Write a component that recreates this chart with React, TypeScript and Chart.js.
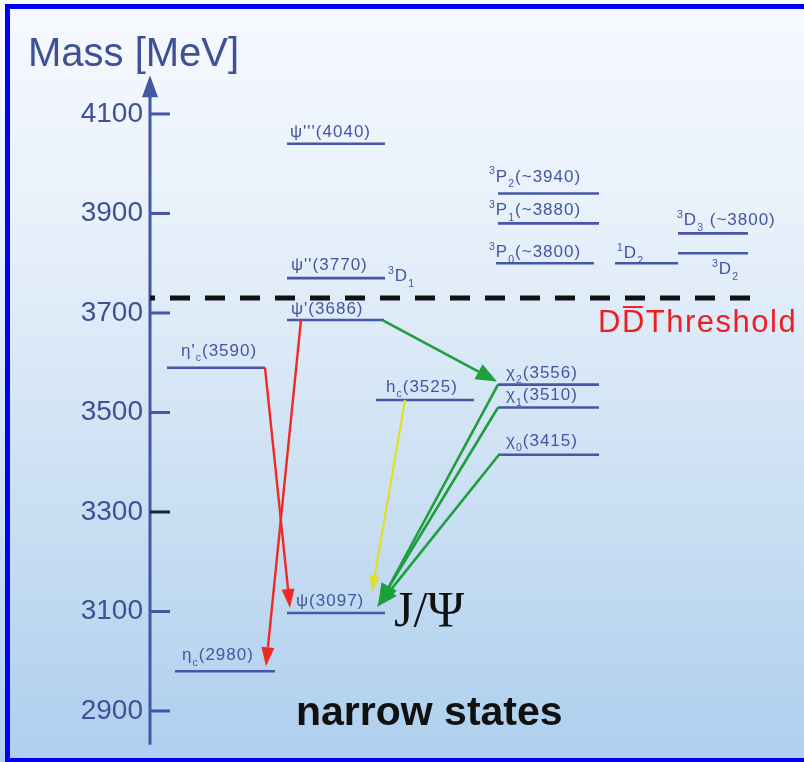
import { useEffect, useRef } from 'react';
import { Chart, registerables } from 'chart.js';

Chart.register(...registerables);

// ---- data ----------------------------------------------------------------
// Mass axis ticks (MeV)
const tickValues = [2900, 3100, 3300, 3500, 3700, 3900, 4100];

// Charmonium states: label text (with _{sub} / ^{sup}) and mass in MeV
const stateLabels = [
  "ψ'''(4040)",
  "ψ''(3770)",
  "ψ'(3686)",
  "η'_{c}(3590)",
  "h_{c}(3525)",
  "χ_{2}(3556)",
  "χ_{1}(3510)",
  "χ_{0}(3415)",
  "ψ(3097)",
  "η_{c}(2980)",
  "^{3}P_{2}(~3940)",
  "^{3}P_{1}(~3880)",
  "^{3}P_{0}(~3800)",
  "^{1}D_{2}",
  "^{3}D_{3} (~3800)",
  "^{3}D_{2}",
];
const stateMasses = [4040, 3770, 3686, 3590, 3525, 3556, 3510, 3415, 3097, 2980, 3940, 3880, 3800, 3800, 3860, 3820];

// Extra spectroscopic tag beside the psi(3770) level
const sideTagText = '^{3}D_{1}';
const sideTagState = 1;

// Radiative / hadronic transitions between states (indices into the arrays above)
const transitionFrom = [2, 3, 2, 5, 6, 7, 4];
const transitionTo = [9, 8, 5, 8, 8, 8, 8];
const transitionKind = ['red', 'red', 'green', 'green', 'green', 'green', 'yellow'];

// Open-charm threshold
const thresholdMass = 3730;
const thresholdWords = ['D', 'D', 'Threshold'];

const axisTitle = 'Mass [MeV]';
const jpsiText = 'J/Ψ';
const footerText = 'narrow states';

// ---- layout ----------------------------------------------------------------
const Y_MIN = 2797.5;
const Y_MAX = 4329;
const AXIS_X = 150;
const AXIS_TOP = 4178;
const AXIS_BOTTOM = 2832;

// horizontal extent of each level and where its label sits [x, dy from line]
const stateSpan: [number, number][] = [
  [287, 385], [287, 385], [287, 384], [167, 265], [376, 474],
  [498, 599], [498, 599], [498, 599], [287, 385], [175, 275],
  [498, 599], [498, 599], [496, 594], [615, 678], [678, 748], [678, 748],
];
const stateLabelAt: [number, number][] = [
  [290, -7], [291, -8], [291, -6], [181, -12], [386, -8],
  [506, -7], [506, -7], [506, -9], [296, -7], [182, -11],
  [489, -12], [489, -8], [489, -6], [617, -5], [677, -8], [712, 21],
];
const sideTagAt: [number, number] = [388, 3];

// [x start, x end, gap above target line in px]
const transitionX: [number, number, number][] = [
  [301, 266, 5],
  [265, 290, 5],
  [382, 497, 3],
  [498, 379, 8],
  [498, 378, 8],
  [499, 377, 6],
  [405, 372, 21],
];

const COLORS = {
  level: '#4656a8',
  text: '#4455a3',
  axis: '#4357a3',
  red: '#ef2a22',
  green: '#1e9e3c',
  yellow: '#e2dd26',
  dash: '#111111',
  border: '#0000f0',
};

const arrowStyle: Record<string, { w: number; len: number; head: number }> = {
  red: { w: 2.4, len: 19, head: 13 },
  green: { w: 2.6, len: 21, head: 17 },
  yellow: { w: 2.2, len: 16, head: 10 },
};

// ---- drawing helpers -----------------------------------------------------
function drawRich(ctx: CanvasRenderingContext2D, text: string, x: number, y: number, size: number, spacing = 1) {
  const re = /([_^])\{([^}]*)\}|([^_^]+)/g;
  let m: RegExpExecArray | null;
  let cx = x;
  ctx.letterSpacing = `${spacing}px`;
  while ((m = re.exec(text))) {
    let s: string;
    let fs = size;
    let dy = 0;
    if (m[1]) {
      s = m[2];
      fs = size * 0.62;
      dy = m[1] === '_' ? size * 0.32 : -size * 0.42;
    } else {
      s = m[3];
    }
    ctx.font = `${fs}px "Liberation Sans"`;
    ctx.fillText(s, cx, y + dy);
    cx += ctx.measureText(s).width;
  }
  ctx.letterSpacing = '0px';
}

function drawArrow(
  ctx: CanvasRenderingContext2D,
  x0: number, y0: number, x1: number, y1: number,
  color: string, w: number, len: number, head: number,
) {
  const a = Math.atan2(y1 - y0, x1 - x0);
  const bx = x1 - len * Math.cos(a);
  const by = y1 - len * Math.sin(a);
  ctx.strokeStyle = color;
  ctx.lineWidth = w;
  ctx.lineCap = 'butt';
  ctx.beginPath();
  ctx.moveTo(x0, y0);
  ctx.lineTo(bx, by);
  ctx.stroke();
  ctx.fillStyle = color;
  ctx.beginPath();
  ctx.moveTo(x1, y1);
  ctx.lineTo(bx + (head / 2) * Math.sin(a), by - (head / 2) * Math.cos(a));
  ctx.lineTo(bx - (head / 2) * Math.sin(a), by + (head / 2) * Math.cos(a));
  ctx.closePath();
  ctx.fill();
}

const backgroundPlugin = {
  id: 'panelBackground',
  beforeDraw(chart: any) {
    const { ctx, width, height } = chart;
    ctx.save();
    const g = ctx.createLinearGradient(0, 0, 0, height);
    g.addColorStop(0, '#f7f9fe');
    g.addColorStop(0.3, '#e7f0fa');
    g.addColorStop(0.6, '#cfe2f4');
    g.addColorStop(1, '#aecfee');
    ctx.fillStyle = g;
    ctx.fillRect(0, 0, width, height);
    ctx.fillStyle = COLORS.border;
    ctx.fillRect(5, 4, width - 5, 5);
    ctx.fillRect(5, 4, 5, height - 4);
    ctx.fillRect(5, height - 4, width - 5, 4);
    ctx.restore();
  },
};

const axisPlugin = {
  id: 'massAxis',
  beforeDatasetsDraw(chart: any) {
    const { ctx } = chart;
    const y = chart.scales.y;
    const top = y.getPixelForValue(AXIS_TOP);
    const bottom = y.getPixelForValue(AXIS_BOTTOM);
    ctx.save();
    ctx.strokeStyle = COLORS.axis;
    ctx.fillStyle = COLORS.axis;
    ctx.lineWidth = 3;
    ctx.beginPath();
    ctx.moveTo(AXIS_X, bottom);
    ctx.lineTo(AXIS_X, top + 18);
    ctx.stroke();
    ctx.beginPath();
    ctx.moveTo(AXIS_X, top);
    ctx.lineTo(AXIS_X - 8, top + 22);
    ctx.lineTo(AXIS_X + 8, top + 22);
    ctx.closePath();
    ctx.fill();
    ctx.lineWidth = 3;
    for (const v of tickValues) {
      const py = y.getPixelForValue(v);
      ctx.strokeStyle = v === 3300 ? '#1a1f3a' : COLORS.axis;
      ctx.beginPath();
      ctx.moveTo(AXIS_X, py);
      ctx.lineTo(AXIS_X + 20, py);
      ctx.stroke();
    }
    ctx.fillStyle = '#3d5194';
    ctx.font = '40px "Liberation Sans"';
    ctx.textBaseline = 'alphabetic';
    ctx.fillText(axisTitle, 28, 66);
    ctx.restore();
  },
};

const annotationPlugin = {
  id: 'levelAnnotations',
  afterDatasetsDraw(chart: any) {
    const { ctx } = chart;
    const y = chart.scales.y;
    ctx.save();
    ctx.textBaseline = 'alphabetic';

    // transitions
    transitionFrom.forEach((from, i) => {
      const to = transitionTo[i];
      const [xs, xe, gap] = transitionX[i];
      const kind = transitionKind[i];
      const st = arrowStyle[kind];
      const y0 = y.getPixelForValue(stateMasses[from]);
      const y1 = y.getPixelForValue(stateMasses[to]) - gap;
      drawArrow(ctx, xs, y0, xe, y1, (COLORS as any)[kind], st.w, st.len, st.head);
    });

    // level labels
    ctx.fillStyle = COLORS.text;
    stateLabels.forEach((label, i) => {
      const [lx, dy] = stateLabelAt[i];
      const py = y.getPixelForValue(stateMasses[i]);
      drawRich(ctx, label, lx, py + dy, 17, 1);
    });
    const tagY = y.getPixelForValue(stateMasses[sideTagState]);
    drawRich(ctx, sideTagText, sideTagAt[0], tagY + sideTagAt[1], 17, 1);

    // threshold caption
    const thY = y.getPixelForValue(thresholdMass);
    ctx.fillStyle = '#ee1d23';
    ctx.font = '31px "Liberation Sans"';
    ctx.letterSpacing = '1.5px';
    let cx = 598;
    const base = thY + 34;
    thresholdWords.forEach((w, i) => {
      ctx.fillText(w, cx, base);
      const wd = ctx.measureText(w).width;
      if (i === 1) {
        ctx.fillRect(cx + 1, base - 26, wd - 4, 2);
      }
      cx += wd;
    });
    ctx.letterSpacing = '0px';

    // J/psi tag and footer
    ctx.fillStyle = '#111111';
    ctx.font = '50px "Liberation Serif"';
    ctx.fillText(jpsiText, 394, y.getPixelForValue(stateMasses[8]) + 13);
    ctx.font = 'bold 41px "Liberation Sans"';
    ctx.fillText(footerText, 296, 725);
    ctx.restore();
  },
};

// ---- chart -----------------------------------------------------------------
function buildDatasets() {
  const levels = stateMasses.map((m, i) => ({
    label: stateLabels[i],
    data: [
      { x: stateSpan[i][0], y: m },
      { x: stateSpan[i][1], y: m },
    ],
    borderColor: COLORS.level,
    borderWidth: 2.6,
    pointRadius: 0,
    clip: false as const,
  }));
  const threshold = {
    label: 'threshold',
    data: [
      { x: AXIS_X, y: thresholdMass },
      { x: 753, y: thresholdMass },
    ],
    borderColor: COLORS.dash,
    borderWidth: 5,
    borderDash: [20, 15],
    borderDashOffset: 15,
    pointRadius: 0,
    clip: false as const,
  };
  return [threshold, ...levels];
}

export default function App() {
  const ref = useRef<HTMLCanvasElement>(null);

  useEffect(() => {
    if (!ref.current) return;
    const chart = new Chart(ref.current, {
      type: 'line',
      data: { datasets: buildDatasets() as any },
      options: {
        animation: false,
        responsive: false,
        devicePixelRatio: 1,
        layout: { padding: 0 },
        plugins: { legend: { display: false }, tooltip: { enabled: false } },
        scales: {
          x: { type: 'linear', display: false, min: AXIS_X, max: 804 },
          y: {
            type: 'linear',
            min: Y_MIN,
            max: Y_MAX,
            afterBuildTicks: (s: any) => {
              s.ticks = tickValues.map((v) => ({ value: v }));
            },
            afterFit: (s: any) => {
              s.width = AXIS_X;
              s.paddingTop = 0;
              s.paddingBottom = 0;
            },
            grid: { display: false, drawTicks: false },
            border: { display: false },
            ticks: {
              padding: 7,
              color: '#3d5194',
              font: { family: 'Liberation Sans', size: 28 },
              callback: (v: any) => String(v),
            },
          },
        },
      },
      plugins: [backgroundPlugin, axisPlugin, annotationPlugin],
    });
    return () => chart.destroy();
  }, []);

  return (
    <div style={{ position: 'fixed', left: 0, top: 0, width: 804, height: 762 }}>
      <canvas ref={ref} width={804} height={762} style={{ display: 'block', width: 804, height: 762 }} />
    </div>
  );
}
